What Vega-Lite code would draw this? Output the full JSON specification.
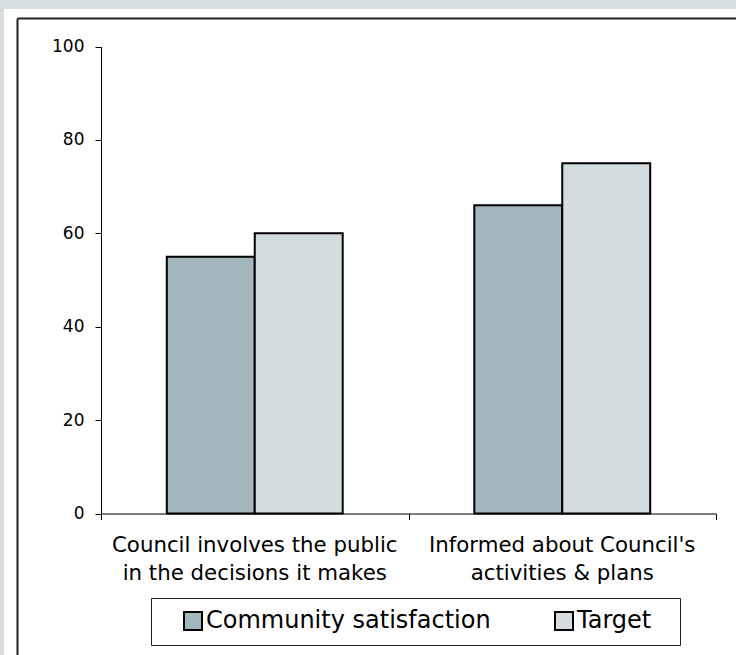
{
  "$schema": "https://vega.github.io/schema/vega-lite/v6.json",
  "autosize": {"type": "none"},
  "width": 732,
  "height": 646,
  "padding": {"left": 4, "top": 9, "right": 0, "bottom": 0},
  "background": "#d6dee2",
  "config": {
    "view": {"fill": "white", "stroke": null},
    "font": "DejaVu Sans"
  },
  "data": {
    "values": [
      {"category": "Council involves the public in the decisions it makes", "series": "Community satisfaction", "value": 55},
      {"category": "Council involves the public in the decisions it makes", "series": "Target", "value": 60},
      {"category": "Informed about Council's activities & plans", "series": "Community satisfaction", "value": 66},
      {"category": "Informed about Council's activities & plans", "series": "Target", "value": 75}
    ]
  },
  "resolve": {"scale": {"x": "independent", "y": "independent"}, "axis": {"x": "independent", "y": "independent"}},
  "layer": [
    {
      "mark": {"type": "bar", "stroke": "black", "strokeWidth": 2},
      "encoding": {
        "x": {
          "field": "category", "type": "nominal", "sort": null,
          "scale": {"range": [97, 712], "paddingInner": 0.428, "paddingOuter": 0.214},
          "axis": {
            "orient": "bottom", "offset": -141.5, "title": null, "ticks": false,
            "domainColor": "black", "labelAngle": 0, "labelFontSize": 21.3, "labelColor": "black",
            "labelPadding": 21, "labelLineHeight": 28, "labelBaseline": "top", "labelLimit": 0,
            "labelExpr": "datum.value == 'Council involves the public in the decisions it makes' ? ['Council involves the public', 'in the decisions it makes'] : ['Informed about Council\\'s', 'activities & plans']"
          }
        },
        "xOffset": {"field": "series", "type": "nominal", "sort": ["Community satisfaction", "Target"], "scale": {"paddingInner": 0, "paddingOuter": 0}},
        "y": {
          "field": "value", "type": "quantitative",
          "scale": {"domain": [0, 100], "range": [504.5, 37.5], "nice": false},
          "axis": {
            "orient": "left", "offset": -97, "title": null, "grid": false,
            "values": [0, 20, 40, 60, 80, 100],
            "domainColor": "black", "tickColor": "black", "tickSize": 6,
            "labelFontSize": 17, "labelColor": "black", "labelPadding": 11
          }
        },
        "color": {
          "field": "series", "type": "nominal", "sort": ["Community satisfaction", "Target"],
          "scale": {"domain": ["Community satisfaction", "Target"], "range": ["#a3b5bd", "#d4dce0"]},
          "legend": {
            "title": null, "orient": "none", "legendX": 147, "legendY": 589,
            "direction": "horizontal", "strokeColor": "#222", "fillColor": "white",
            "padding": 11, "symbolType": "square", "symbolSize": 324,
            "symbolStrokeColor": "black", "symbolStrokeWidth": 2, "symbolOpacity": 1,
            "labelFontSize": 24, "labelColor": "black", "labelOffset": 1, "labelLimit": 0,
            "columnPadding": 42, "symbolOffset": 19,
            "labelExpr": "datum.label == 'Target' ? 'Target\u2800' : datum.label"
          }
        }
      }
    },
    {
      "mark": {"type": "point", "opacity": 0},
      "encoding": {
        "x": {
          "field": "value", "type": "quantitative",
          "scale": {"domain": [0, 1], "range": [13, 760], "nice": false, "zero": false},
          "axis": {"orient": "top", "offset": -9, "title": null, "ticks": false, "labels": false, "grid": false, "domainColor": "#222", "domainWidth": 2}
        },
        "y": {
          "field": "value", "type": "quantitative",
          "scale": {"domain": [0, 1], "range": [700, 9], "nice": false, "zero": false},
          "axis": {"orient": "left", "offset": -13, "title": null, "ticks": false, "labels": false, "grid": false, "domainColor": "#222", "domainWidth": 2}
        }
      }
    },
    {
      "mark": {"type": "point", "opacity": 0},
      "encoding": {
        "x": {
          "field": "value", "type": "quantitative",
          "scale": {"domain": [0, 2], "range": [97, 712], "nice": false, "zero": false},
          "axis": {"orient": "bottom", "offset": -141.5, "title": null, "values": [0, 1, 2], "ticks": true, "tickSize": 6, "tickColor": "black", "labels": false, "grid": false, "domain": false}
        }
      }
    }
  ]
}
